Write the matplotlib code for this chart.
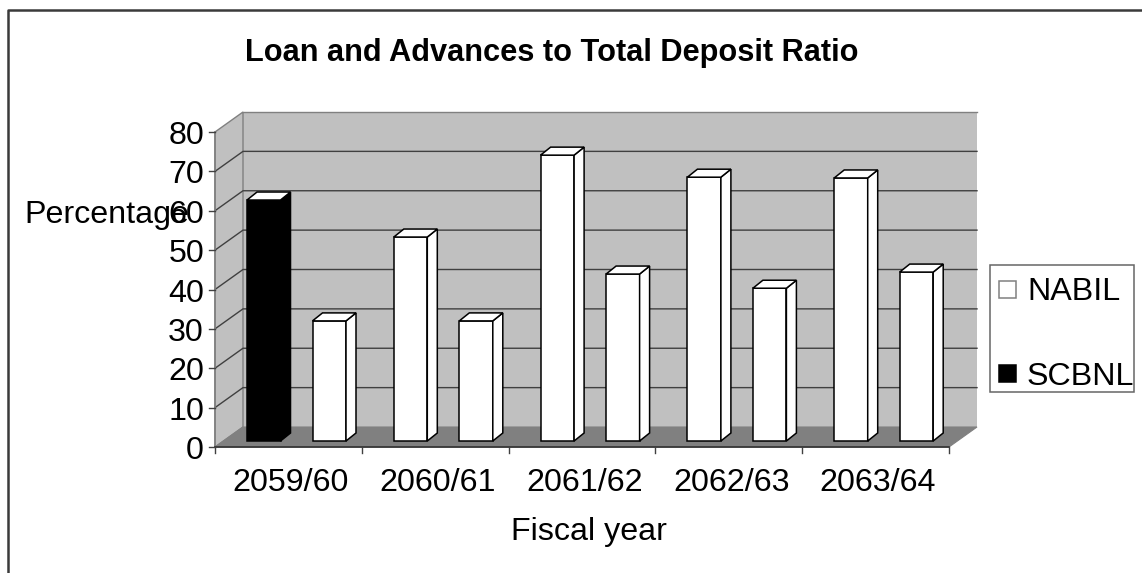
import matplotlib
matplotlib.use("Agg")
import matplotlib.pyplot as plt
from matplotlib.patches import Polygon, Rectangle

plt.rcParams['font.family'] = ['Liberation Sans', 'DejaVu Sans']

years = ["2059/60", "2060/61", "2061/62", "2062/63", "2063/64"]
scbnl = [61.2, 51.8, 72.6, 67.0, 66.8]
nabil = [30.5, 30.5, 42.4, 38.8, 42.9]
y_ticks = [0, 10, 20, 30, 40, 50, 60, 70, 80]

W, H = 1142, 573
FS = 23.2
fig = plt.figure(figsize=(W / 100, H / 100), dpi=100, facecolor="white")

# front plane of the fake 3d box, in pixels
left, right, y0, y80 = 215, 949, 447, 132
ax = fig.add_axes([left / W, 1 - y0 / H, (right - left) / W, (y0 - y80) / H])
ax.set_xlim(0, 5)
ax.set_ylim(0, 80)
ax.axis("off")

px = 5 / (right - left)    # data per pixel, x
py = 80 / (y0 - y80)       # data per pixel, y
wall_dx, wall_dy = 28 * px, 20 * py
bar_dx, bar_dy = 10 * px, 8 * py
base = 6 * py
bar_w = 33.5 * px
offsets = [32 * px, 97.5 * px]

dark = "#404040"
edge = "#808080"


def poly(points, **kw):
    ax.add_patch(Polygon(points, closed=True, clip_on=False, **kw))


# walls and floor
poly([(wall_dx, wall_dy), (5 + wall_dx, wall_dy), (5 + wall_dx, 80 + wall_dy), (wall_dx, 80 + wall_dy)],
     fc="#c0c0c0", ec="none", zorder=1)
poly([(0, 0), (wall_dx, wall_dy), (wall_dx, 80 + wall_dy), (0, 80)],
     fc="#c0c0c0", ec=edge, lw=1.0, zorder=1)
poly([(0, 0), (5, 0), (5 + wall_dx, wall_dy), (wall_dx, wall_dy)],
     fc="#808080", ec="#808080", lw=0.8, zorder=2)

for t in y_ticks[1:-1]:
    ax.plot([0, wall_dx, 5 + wall_dx], [t, t + wall_dy, t + wall_dy], color=dark, lw=1.0,
            clip_on=False, zorder=2)
ax.plot([wall_dx, 5 + wall_dx], [80 + wall_dy, 80 + wall_dy], color=edge, lw=1.0, clip_on=False, zorder=2)

# axis lines and ticks
ax.plot([0, 0], [0, 80], color=edge, lw=1.2, clip_on=False, zorder=3)
ax.plot([0, 5], [0, 0], color="#303030", lw=1.2, clip_on=False, zorder=3)
for t in y_ticks:
    ax.plot([-6 * px, 0], [t, t], color=dark, lw=1.0, clip_on=False, zorder=3)
    ax.text(-11 * px, t - 12 * py, str(t), ha="right", va="baseline", fontsize=FS, color="black")
for i in range(6):
    ax.plot([i, i], [0, -6 * py], color=dark, lw=1.0, clip_on=False, zorder=3)
for i, name in enumerate(years):
    ax.text(i + 0.5 + 2.5 * px, -44 * py, name, ha="center", va="baseline", fontsize=FS, color="black")


def bar3d(x, v, color):
    ax.bar(x, v, width=bar_w, bottom=base, align="edge", fc=color, ec="black", lw=1.1, zorder=5, clip_on=False)
    top = base + v
    x2 = x + bar_w
    poly([(x2, base), (x2 + bar_dx, base + bar_dy), (x2 + bar_dx, top + bar_dy), (x2, top)],
         fc=color, ec="black", lw=1.1, zorder=5)
    poly([(x, top), (x2, top), (x2 + bar_dx, top + bar_dy), (x + bar_dx, top + bar_dy)],
         fc="white", ec="black", lw=1.1, zorder=5)


for i in range(len(years)):
    # only the first SCBNL bar is filled black in the source chart
    bar3d(i + offsets[0], scbnl[i], "black" if i == 0 else "white")
    bar3d(i + offsets[1], nabil[i], "white")

# page-level stuff, in pixel coords
page = fig.add_axes([0, 0, 1, 1], zorder=-1)
page.set_xlim(0, W)
page.set_ylim(H, 0)
page.axis("off")
page.plot([8, 8, W], [H, 10, 10], color="#3a3a3a", lw=1.8)

over = fig.add_axes([0, 0, 1, 1], zorder=10)
over.set_xlim(0, W)
over.set_ylim(H, 0)
over.axis("off")
over.patch.set_alpha(0)
over.text(551.5, 61, "Loan and Advances to Total Deposit Ratio", ha="center", va="baseline",
          fontsize=22.15, fontweight="bold", color="black")
over.text(24, 222.5, "Percentage", ha="left", va="baseline", fontsize=FS, color="black")
over.text(589, 540, "Fiscal year", ha="center", va="baseline", fontsize=FS, color="black")

# legend
over.add_patch(Rectangle((990, 265), 144, 127, fc="white", ec="#666666", lw=1.1))
over.add_patch(Rectangle((999, 281), 17, 17, fc="white", ec="#808080", lw=1.1))
over.add_patch(Rectangle((999, 365), 17, 17, fc="black", ec="black", lw=1.1))
over.text(1027, 300, "NABIL", ha="left", va="baseline", fontsize=FS, color="black")
over.text(1027, 385, "SCBNL", ha="left", va="baseline", fontsize=FS, color="black")

fig.savefig("out.png", dpi=100)
